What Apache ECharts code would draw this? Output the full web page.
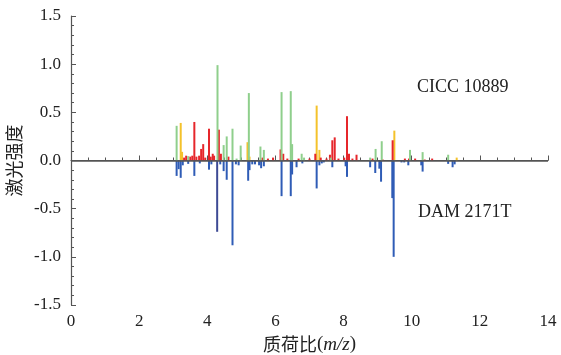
<!DOCTYPE html>
<html lang="zh">
<head>
    <meta charset="UTF-8">
    <title>质荷比</title>
    <script src="https://cdn.jsdelivr.net/npm/echarts@6/dist/echarts.min.js"></script>
    <style>
        html, body { margin: 0; padding: 0; background: #fff; }
        #main { width: 561px; height: 355px; }
    </style>
</head>
<body>
<div id="main"></div>
<script>
// 峰数据 [质荷比(千), 强度]
var greenPeaks = [[3.10,0.36],[3.44,0.045],[4.30,0.99],[4.48,0.16],[4.57,0.25],[4.74,0.33],[4.86,0.02],[4.98,0.155],[5.22,0.70],[5.56,0.145],[5.66,0.11],[6.18,0.71],[6.45,0.72],[6.49,0.17],[6.77,0.07],[6.84,0.03],[7.62,0.03],[8.78,0.03],[8.94,0.12],[9.12,0.20],[9.95,0.11],[10.32,0.087],[11.07,0.06]];
var yellowPeaks = [[3.22,0.39],[3.26,0.09],[5.18,0.19],[5.24,0.04],[7.21,0.57],[7.29,0.11],[9.49,0.31],[11.32,0.03]];
var redPeaks = [[3.32,0.03],[3.38,0.05],[3.50,0.04],[3.56,0.05],[3.62,0.40],[3.68,0.04],[3.76,0.05],[3.82,0.12],[3.88,0.17],[3.94,0.03],[4.05,0.33],[4.10,0.04],[4.16,0.07],[4.20,0.05],[4.34,0.32],[4.40,0.07],[4.62,0.04],[5.62,0.03],[5.78,0.02],[5.93,0.03],[6.15,0.115],[6.23,0.07],[6.35,0.02],[6.68,0.02],[7.00,0.02],[7.17,0.07],[7.33,0.03],[7.50,0.02],[7.60,0.06],[7.67,0.21],[7.74,0.24],[7.85,0.02],[8.02,0.03],[8.10,0.46],[8.16,0.07],[8.26,0.02],[8.38,0.06],[8.85,0.02],[9.15,0.01],[9.44,0.21],[9.80,0.02],[9.92,0.02],[10.10,0.02],[10.38,0.01],[10.60,0.02]];
var bluePeaks = [[3.10,-0.16],[3.16,-0.09],[3.22,-0.18],[3.28,-0.05],[3.44,-0.035],[3.62,-0.16],[3.78,-0.03],[4.05,-0.095],[4.12,-0.04],[4.38,-0.04],[4.48,-0.11],[4.57,-0.20],[4.74,-0.88],[4.84,-0.04],[4.92,-0.05],[5.20,-0.21],[5.24,-0.10],[5.32,-0.04],[5.40,-0.04],[5.52,-0.05],[5.58,-0.08],[5.66,-0.06],[6.18,-0.37],[6.45,-0.37],[6.49,-0.145],[6.62,-0.07],[6.79,-0.03],[7.21,-0.29],[7.29,-0.05],[7.36,-0.03],[7.42,-0.02],[7.67,-0.07],[8.06,-0.06],[8.10,-0.17],[8.78,-0.07],[8.93,-0.13],[9.05,-0.085],[9.10,-0.22],[9.43,-0.39],[9.45,-0.39],[9.47,-1.0],[9.70,-0.02],[9.78,-0.02],[9.90,-0.05],[10.28,-0.05],[10.32,-0.115],[11.07,-0.035],[11.20,-0.07],[11.26,-0.04]];
var navyPeaks = [[4.29,-0.74]];

var sampleTop = 'CICC 10889';
var sampleBottom = 'DAM 2171T';

var serif = 'Liberation Serif, Times New Roman, serif';
var cjk = 'Noto Sans CJK SC, sans-serif';

function peakSeries(data, color) {
    return {
        type: 'bar',
        data: data,
        barWidth: 2,
        barGap: '-100%',
        itemStyle: { color: color },
        silent: true
    };
}

var myChart = echarts.init(document.getElementById('main'));

var series = [
    peakSeries(greenPeaks, '#8fcf8c'),
    peakSeries(yellowPeaks, '#f4c22b'),
    peakSeries(redPeaks, '#e6262b'),
    peakSeries(bluePeaks, '#2f5cb6'),
    peakSeries(navyPeaks, '#3d4a94')
];
// 零线
series[0].markLine = {
    silent: true,
    symbol: ['none', 'none'],
    label: { show: false },
    lineStyle: { color: '#555', width: 1.5, type: 'solid' },
    data: [{ yAxis: 0 }]
};
series[0].z = 3;

myChart.setOption({
    animation: false,
    grid: { left: 71, right: 13, top: 16, bottom: 50, containLabel: false, outerBoundsMode: 'none' },
    xAxis: {
        type: 'value',
        min: 0, max: 14, interval: 2,
        name: '{a|质荷比}{b|(}{c|m/z}{b|)}',
        nameLocation: 'middle',
        nameGap: 30,
        nameTextStyle: {
            rich: {
                a: { fontFamily: cjk, fontSize: 18, color: '#222' },
                b: { fontFamily: serif, fontSize: 19, color: '#222' },
                c: { fontFamily: serif, fontSize: 19, fontStyle: 'italic', color: '#222' }
            }
        },
        axisLine: { lineStyle: { color: '#555', width: 1.2 } },
        axisTick: { inside: true, length: 5, lineStyle: { color: '#555' } },
        minorTick: { show: true, splitNumber: 4, length: 3, lineStyle: { color: '#555' } },
        splitLine: { show: false },
        axisLabel: { fontFamily: serif, fontSize: 17, color: '#222', margin: 8 }
    },
    yAxis: {
        type: 'value',
        min: -1.5, max: 1.5, interval: 0.5,
        name: '激光强度',
        nameLocation: 'middle',
        nameRotate: 90,
        nameGap: 44,
        nameTextStyle: { fontFamily: cjk, fontSize: 18, color: '#222' },
        axisLine: { show: true, lineStyle: { color: '#555', width: 1.2 } },
        axisTick: { show: true, inside: true, length: 5, lineStyle: { color: '#555' } },
        minorTick: { show: true, splitNumber: 5, length: 3, lineStyle: { color: '#555' } },
        splitLine: { show: false },
        axisLabel: {
            fontFamily: serif, fontSize: 17, color: '#222', margin: 10,
            formatter: function (v) { return v.toFixed(1); }
        }
    },
    graphic: [
        { type: 'text', left: 417, top: 78, style: { text: sampleTop, font: '18px ' + serif, fill: '#222' } },
        { type: 'text', left: 418, top: 203, style: { text: sampleBottom, font: '18px ' + serif, fill: '#222' } }
    ],
    series: series
});
</script>
</body>
</html>
